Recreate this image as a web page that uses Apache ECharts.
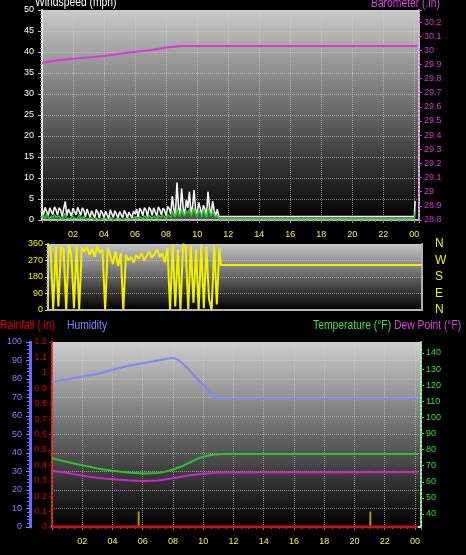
<!DOCTYPE html>
<html>
<head>
<meta charset="utf-8">
<title>Weather</title>
<script src="https://cdn.jsdelivr.net/npm/echarts@6/dist/echarts.min.js"></script>
<style>
html, body { margin: 0; padding: 0; background: #000; }
#main { width: 466px; height: 555px; }
</style>
</head>
<body>
<div id="main"></div>
<script>
// ---- data (hours of the day on every x axis) ----
// wind, one sample every 0.1 h from 00:00
var windStep = 0.1;
var windGust = [
  2.8,1.2,3.0,2.6,1.0,2.9,2.7,1.3,3.1,2.5,
  1.1,2.9,2.4,0.8,2.7,4.4,1.0,2.6,2.2,0.9,
  2.8,2.5,1.2,3.0,2.7,1.1,2.9,2.3,0.7,2.6,
  2.4,0.6,2.2,1.9,0.5,2.5,1.8,0.4,2.3,1.6,
  0.5,2.1,1.7,0.3,2.4,1.5,0.6,2.2,1.4,0.4,
  2.0,1.3,0.5,2.3,1.6,0.3,1.9,1.2,0.5,2.1,
  1.4,2.6,0.6,2.8,2.2,1.0,2.9,2.4,0.8,3.0,
  2.5,1.1,2.9,2.6,0.9,3.1,2.4,1.2,2.8,2.3,
  1.0,3.2,2.7,1.4,5.7,2.6,1.2,8.9,3.0,1.5,
  7.5,2.8,1.3,4.8,2.9,6.7,1.6,3.1,7.1,2.5,
  1.4,4.2,2.8,1.2,3.5,2.6,1.0,6.7,2.9,1.3,
  4.5,2.2,1.0,2.6,0.8
];
var windAvg = [
  0.6,1.2,0.4,1.4,0.8,0.3,1.0,0.5,1.3,0.7,
  0.4,0.9,0.6,0.2,1.1,1.6,0.5,0.8,0.3,0.7,
  1.0,0.4,0.8,0.5,1.2,0.3,0.7,0.9,0.2,0.6,
  0.4,0.1,0.6,0.3,0.0,0.5,0.2,0.0,0.4,0.3,
  0.1,0.5,0.3,0.0,0.6,0.2,0.1,0.4,0.3,0.0,
  0.4,0.2,0.1,0.5,0.3,0.0,0.4,0.2,0.1,0.6,
  0.3,0.8,0.2,0.9,0.6,0.3,1.0,0.7,0.4,1.1,
  0.8,0.4,1.0,0.9,0.3,1.2,0.7,0.5,1.1,0.8,
  0.4,1.3,1.0,0.6,2.1,1.2,0.7,2.8,1.4,0.8,
  2.6,1.5,0.9,2.2,1.6,2.7,0.9,1.8,2.9,1.4,
  0.8,2.3,1.7,0.7,2.4,1.5,0.6,2.8,1.9,0.9,
  2.0,1.3,0.6,1.2,0.3
];
// after the live data stops the readings stay flat
var windTailHours = [11.45, 24.0, 24.05];
var windTailGust = [0.8, 0.8, 4.5];
var windTailAvg = [0.3, 0.3, 2.0];

var baroHours = [0,1,2,3,4,5,6,7,8,9,10,12,16,20,24.2];
var baroValues = [29.91,29.93,29.94,29.95,29.96,29.975,29.99,30.0,30.02,30.03,30.03,30.03,30.03,30.03,30.03];

// wind direction, one sample every 10 minutes
var dirStep = 1 / 6;
var windDir = [
  355,340,0,350,20,345,330,0,355,300,10,350,0,340,
  320,345,300,335,290,350,310,330,
  0,340,
  300,250,320,240,310,
  0,300,
  270,290,260,300,280,310,270,295,320,285,305,330,290,310,260,
  340,0,355,20,330,0,360,345,5,350,40,330,0,355,10,345,60,0,350,30,340
];
var dirTailHours = [11.1, 24];
var dirTail = [245, 245];
var compass = ['N', 'E', 'S', 'W', 'N'];

var humHours = [0,1,2,3,4,5,6,7,7.8,8.1,8.5,9,9.5,9.8,10.2,10.5,10.8,24.2];
var humValues = [78.5,79.8,81.3,82.7,85,87,88.5,90,91.2,91.3,89.5,85.5,81,78.5,75.5,72.5,69.3,69.3];
var tempHours = [0,1,2,3,4,5,6,7,7.5,8,8.5,9,9.5,10,10.5,11.2,24.2];
var tempValues = [74.6,72.3,70.3,68.3,66.8,65.8,65.2,65.5,66.3,67.6,69.3,71.5,73.8,75.5,76.6,77.3,77.3];
var dewHours = [0,1,2,3,4,5,6,7,8,9,10,11,24.2];
var dewValues = [66.9,65.4,63.8,62.5,61.5,60.9,60.5,60.8,62.2,63.9,65.0,65.8,65.9];
var rainHours = [0, 24.2];
var rainValues = [0, 0];
var rainMarkHours = [5.73, 21.05];
var rainMarkValues = [0.1, 0.1];
var tempTicks = [40,50,60,70,80,90,100,110,120,130,140];

// ---- helpers ----
var FONT = "'Liberation Sans', Arial, sans-serif";

function pairs(hours, values) {
  var out = [];
  for (var i = 0; i < values.length; i++) out.push([hours[i], values[i]]);
  return out;
}
function stepped(step, values, tailH, tailV) {
  var out = [];
  for (var i = 0; i < values.length; i++) out.push([+(i * step).toFixed(3), values[i]]);
  return out.concat(pairs(tailH, tailV));
}
function hourLabel(v) {
  if (v === 0 || Math.abs(v % 2) > 1e-6) return '';
  var h = v % 24;
  return (h < 10 ? '0' : '') + h;
}
function bg(top) {
  return new echarts.graphic.LinearGradient(0, 0, 0, 1, [
    { offset: 0, color: top },
    { offset: 1, color: '#000' }
  ]);
}
// narrow title text (the original uses a condensed face)
function title(text, x, y, color) {
  return {
    type: 'text', x: x, y: y, scaleX: 0.86,
    style: { text: text, fill: color, font: '12px ' + FONT, textVerticalAlign: 'middle' }
  };
}
var dotted = { color: 'rgba(215,215,215,0.55)', type: 'dotted', width: 1 };

var chart = echarts.init(document.getElementById('main'));

var option = {
  backgroundColor: '#000',
  animation: false,
  textStyle: { fontFamily: FONT },
  grid: [
    { left: 42, top: 10, width: 377, height: 210, show: true, borderWidth: 0, backgroundColor: bg('#cacaca') },
    { left: 48, top: 244, width: 374, height: 66, show: true, borderWidth: 0, backgroundColor: bg('#c6c6c6') },
    { left: 52, top: 342, width: 369, height: 185, show: true, borderWidth: 0, backgroundColor: bg('#cecece') }
  ],
  xAxis: [
    {
      gridIndex: 0, type: 'value', min: 0, max: 24.3, interval: 2, offset: 4,
      axisLine: { show: true, lineStyle: { color: '#b4b4b4', width: 2 } },
      axisTick: { show: true, length: 3, lineStyle: { color: '#888' } },
      minorTick: { show: true, splitNumber: 4, length: 2, lineStyle: { color: '#777' } },
      axisLabel: { color: '#f0f050', fontSize: 9, margin: 6, fontFamily: FONT, formatter: hourLabel },
      splitLine: { show: true, lineStyle: dotted }
    },
    {
      gridIndex: 1, type: 'value', min: 0, max: 24, offset: 1,
      axisLine: { show: true, lineStyle: { color: '#b4b4b4', width: 2 } },
      axisTick: { show: false }, axisLabel: { show: false }, splitLine: { show: false }
    },
    {
      gridIndex: 2, type: 'value', min: 0, max: 24.4, interval: 2, offset: 3,
      axisLine: { show: true, lineStyle: { color: '#d8d8d8', width: 2 } },
      axisTick: { show: true, length: 3, lineStyle: { color: '#888' } },
      minorTick: { show: true, splitNumber: 4, length: 2, lineStyle: { color: '#777' } },
      axisLabel: { color: '#f0f050', fontSize: 9, margin: 7, fontFamily: FONT, formatter: hourLabel },
      splitLine: { show: true, lineStyle: dotted }
    }
  ],
  yAxis: [
    // windspeed
    {
      gridIndex: 0, type: 'value', position: 'left', min: 0, max: 50, interval: 5,
      axisLine: { show: true, lineStyle: { color: '#ececec', width: 2 } },
      axisTick: { show: true, length: 4, lineStyle: { color: '#bbb' } },
      minorTick: { show: true, splitNumber: 5, length: 2, lineStyle: { color: '#888' } },
      axisLabel: { color: '#fff', fontSize: 9, margin: 8, fontFamily: FONT },
      splitLine: { show: true, lineStyle: dotted }
    },
    // barometer
    {
      gridIndex: 0, type: 'value', position: 'right', min: 28.8, max: 30.285, interval: 0.1,
      axisLine: { show: true, lineStyle: { color: '#e8b0e8', width: 2, type: 'dotted' } },
      axisTick: { show: true, length: 3, lineStyle: { color: '#d040d0' } },
      axisLabel: {
        color: '#e030e0', fontSize: 9, margin: 5, fontFamily: FONT,
        formatter: function (v) {
          var r = Math.round(v * 10) / 10;
          return Math.abs(r - v) < 1e-6 ? String(r) : '';
        }
      },
      splitLine: { show: false }
    },
    // wind direction
    {
      gridIndex: 1, type: 'value', position: 'left', min: 0, max: 360, interval: 90,
      axisLine: { show: true, lineStyle: { color: '#d0d0d0', width: 2 } },
      axisTick: { show: true, length: 3, lineStyle: { color: '#e0e000' } },
      minorTick: { show: true, splitNumber: 5, length: 2, lineStyle: { color: '#a0a000' } },
      axisLabel: { color: '#f0f000', fontSize: 9, margin: 5, fontFamily: FONT },
      splitLine: { show: true, lineStyle: dotted }
    },
    // compass letters
    {
      gridIndex: 1, type: 'value', position: 'right', min: 0, max: 360, interval: 90,
      axisLine: { show: true, lineStyle: { color: '#b0b0b0', width: 2 } },
      axisTick: { show: false },
      axisLabel: {
        color: '#f0f000', fontSize: 12, margin: 13, fontFamily: FONT,
        formatter: function (v) { return compass[Math.round(v / 90)]; }
      },
      splitLine: { show: false }
    },
    // rainfall
    {
      gridIndex: 2, type: 'value', position: 'left', min: 0, max: 1.2, interval: 0.1,
      axisLine: { show: true, lineStyle: { color: '#e03030', width: 2, type: 'dotted' } },
      axisTick: { show: true, length: 3, lineStyle: { color: '#d00000' } },
      axisLabel: {
        color: '#e00000', fontSize: 9, margin: 5, fontFamily: FONT,
        formatter: function (v) { return String(Math.round(v * 10) / 10); }
      },
      splitLine: { show: false }
    },
    // humidity
    {
      gridIndex: 2, type: 'value', position: 'left', offset: 22, min: 0, max: 100, interval: 10,
      axisLine: { show: true, lineStyle: { color: '#6a6aff', width: 3 } },
      axisTick: { show: true, length: 4, lineStyle: { color: '#8080ff' } },
      minorTick: { show: true, splitNumber: 5, length: 3, lineStyle: { color: '#6a6aff' } },
      axisLabel: { color: '#8080ff', fontSize: 9, margin: 8, fontFamily: FONT },
      splitLine: { show: true, lineStyle: dotted }
    },
    // temperature / dew point
    {
      gridIndex: 2, type: 'value', position: 'right', min: 31.9, max: 146.8,
      axisLine: { show: true, lineStyle: { color: '#a8f0a8', width: 2, type: 'dotted' } },
      axisTick: { show: true, length: 3, customValues: tempTicks, lineStyle: { color: '#30d030' } },
      axisLabel: { color: '#30e030', fontSize: 9, margin: 5, fontFamily: FONT, customValues: tempTicks },
      splitLine: { show: false }
    }
  ],
  graphic: [
    title('Windspeed (mph)', 35, 3, '#fff'),
    title('Barometer (.in)', 371, 4, '#e040e0'),
    title('Rainfall (.in)', 0, 326, '#e00000'),
    title('Humidity', 67, 326, '#8080ff'),
    title('Temperature (°F)', 313, 326, '#40e040'),
    title('Dew Point (°F)', 394, 326, '#e040e0')
  ],
  series: [
    {
      name: 'Wind gust', type: 'line', xAxisIndex: 0, yAxisIndex: 0, symbol: 'none',
      lineStyle: { color: '#f4f4f4', width: 1.6 },
      data: stepped(windStep, windGust, windTailHours, windTailGust)
    },
    {
      name: 'Wind speed', type: 'line', xAxisIndex: 0, yAxisIndex: 0, symbol: 'none',
      lineStyle: { color: '#30c030', width: 1.5 },
      areaStyle: { color: 'rgba(170,240,170,0.55)' },
      data: stepped(windStep, windAvg, windTailHours, windTailAvg)
    },
    {
      name: 'Barometer', type: 'line', xAxisIndex: 0, yAxisIndex: 1, symbol: 'none',
      lineStyle: { color: '#d838d8', width: 2 },
      data: pairs(baroHours, baroValues)
    },
    {
      name: 'Direction', type: 'line', xAxisIndex: 1, yAxisIndex: 2, symbol: 'none',
      lineStyle: { color: '#f0f000', width: 2 },
      data: stepped(dirStep, windDir, dirTailHours, dirTail)
    },
    {
      name: 'Rainfall', type: 'line', xAxisIndex: 2, yAxisIndex: 4, symbol: 'none', z: 5,
      lineStyle: { color: '#cc1010', width: 3 },
      data: pairs(rainHours, rainValues)
    },
    {
      name: 'Rain rate', type: 'bar', xAxisIndex: 2, yAxisIndex: 4, barWidth: 2,
      itemStyle: { color: '#b09a00' },
      data: pairs(rainMarkHours, rainMarkValues)
    },
    {
      name: 'Humidity', type: 'line', xAxisIndex: 2, yAxisIndex: 5, symbol: 'none',
      lineStyle: { color: '#8484f4', width: 2 },
      data: pairs(humHours, humValues)
    },
    {
      name: 'Temperature', type: 'line', xAxisIndex: 2, yAxisIndex: 6, symbol: 'none',
      lineStyle: { color: '#30c030', width: 2 },
      data: pairs(tempHours, tempValues)
    },
    {
      name: 'Dew Point', type: 'line', xAxisIndex: 2, yAxisIndex: 6, symbol: 'none',
      lineStyle: { color: '#c828c8', width: 2 },
      data: pairs(dewHours, dewValues)
    }
  ]
};

chart.setOption(option);
</script>
</body>
</html>
